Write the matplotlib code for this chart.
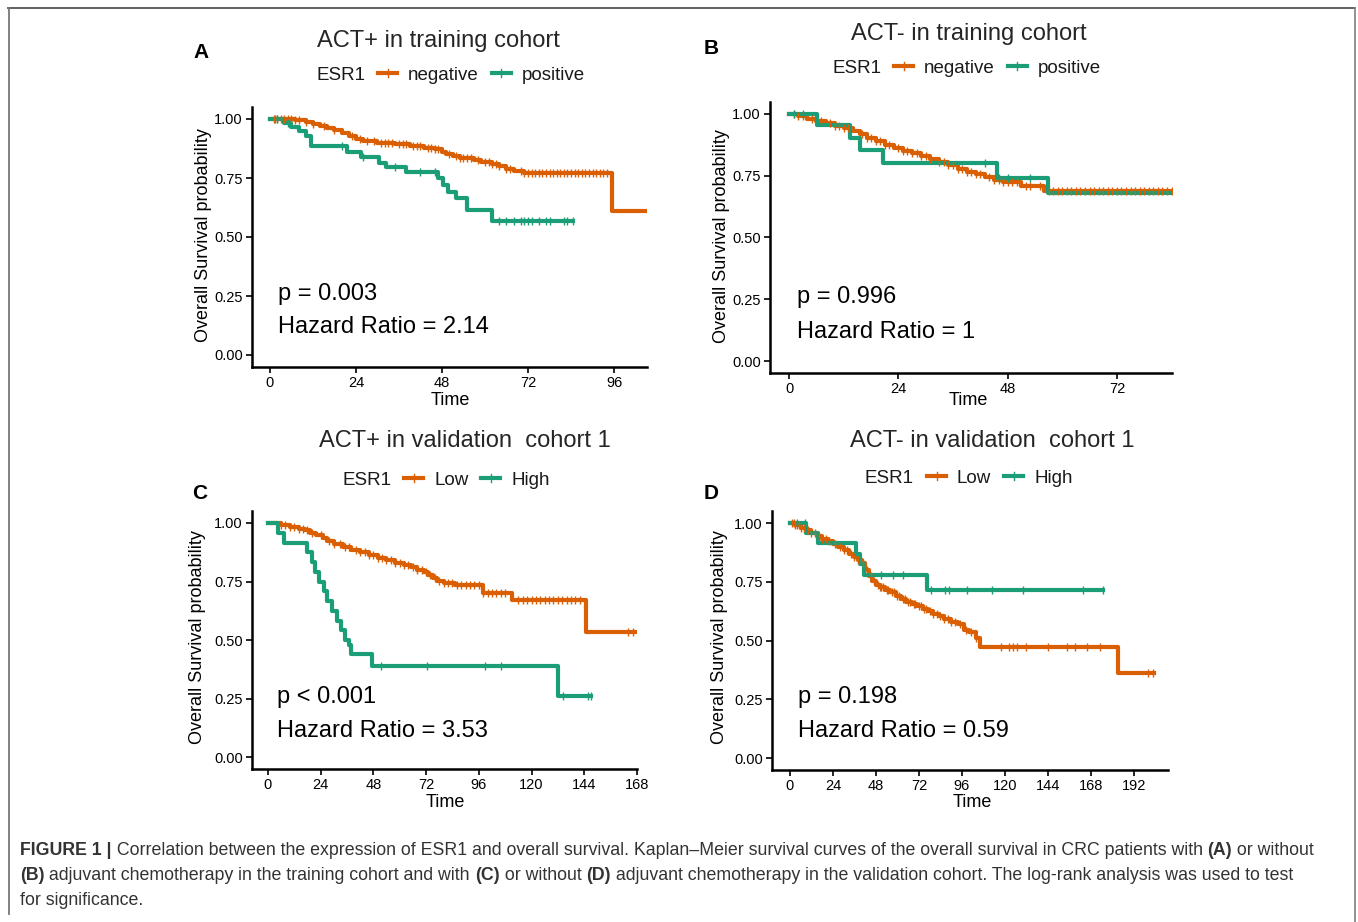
import numpy as np
import matplotlib.pyplot as plt
import matplotlib.transforms as mtransforms
from matplotlib.lines import Line2D

W, H = 1358, 922
ORANGE = "#D95F02"
GREEN = "#1B9E77"

# ---- panel A: ACT+ in training cohort ----
a_neg_t = [0, 7, 10, 12, 14, 16, 18, 20, 22, 24, 26, 30, 35, 39, 43, 46, 48, 49, 51, 53,
           57, 59, 62, 64, 66, 68, 71, 95.5]
a_neg_s = [1.0, 0.994, 0.987, 0.98, 0.972, 0.962, 0.952, 0.94, 0.928, 0.916, 0.908, 0.90,
           0.893, 0.886, 0.879, 0.872, 0.862, 0.853, 0.843, 0.834, 0.826, 0.817, 0.81, 0.80,
           0.79, 0.781, 0.772, 0.61]
a_neg_end = 105
a_neg_cens = [1, 1.5, 2, 3, 4, 5, 6, 7, 8, 10, 12, 15, 18, 23, 25, 27, 29, 31, 32, 33, 34, 36,
              37, 38, 40, 41, 42, 44, 45, 46, 47, 50, 52, 53, 54, 55, 56, 58, 60, 61, 62, 63,
              64, 66, 67, 70, 71, 72, 73, 74, 75, 76, 77, 78, 79, 80, 81, 82, 83, 84, 85, 86,
              87, 88, 89, 90, 91, 92, 93, 94]
a_pos_t = [0, 4, 6, 8, 10, 11.5, 21.5, 25.5, 30.5, 32.5, 38, 47, 48.3, 49.7, 52, 55, 62]
a_pos_s = [1.0, 0.983, 0.966, 0.95, 0.93, 0.887, 0.862, 0.839, 0.813, 0.797, 0.775, 0.75,
           0.72, 0.69, 0.665, 0.614, 0.567]
a_pos_end = 84.5
a_pos_cens = [2, 5, 20, 26, 35, 42, 46, 64, 66, 68, 70, 71, 72, 73, 75, 77, 78, 82, 83, 84.5]

# ---- panel B: ACT- in training cohort ----
b_neg_t = [0, 2, 4, 6, 8, 10, 12, 14, 15.5, 17, 19, 21, 23, 25, 27, 29, 31, 33, 35, 37, 39,
           41, 43, 45, 47, 51, 56]
b_neg_s = [1.0, 0.99, 0.98, 0.97, 0.962, 0.952, 0.944, 0.932, 0.918, 0.904, 0.89, 0.876,
           0.864, 0.852, 0.84, 0.828, 0.818, 0.806, 0.792, 0.778, 0.766, 0.755, 0.744, 0.733,
           0.724, 0.708, 0.69]
b_neg_end = 84
b_neg_cens = [1, 2, 3, 5, 7, 9, 10, 11, 12, 13, 16, 17, 18, 19, 20, 21, 22, 24, 25, 26, 27,
              28, 29, 30, 31, 33, 34, 35, 36, 37, 38, 39, 40, 41, 42, 44, 45, 46, 47, 48, 49,
              50, 52, 53, 55, 57, 58, 59, 60, 61, 62, 63, 64, 65, 66, 67, 68, 69, 70, 71, 72,
              73, 74, 75, 76, 77, 78, 79, 80, 81, 82, 83, 84]
b_pos_t = [0, 6.1, 13.4, 15.6, 20.7, 45.7, 56.9]
b_pos_s = [1.0, 0.955, 0.903, 0.854, 0.80, 0.742, 0.679]
b_pos_end = 84
b_pos_cens = [1, 3, 43, 46, 48, 53]

# ---- panel C: ACT+ in validation cohort 1 ----
c_low_t = [0, 6, 10, 14, 17, 19, 22, 25, 27, 30, 34, 38, 42, 46, 50, 54, 58, 62, 65, 68, 71,
           73, 75, 77, 80, 85, 98, 111, 145]
c_low_s = [1.0, 0.992, 0.984, 0.976, 0.968, 0.958, 0.948, 0.935, 0.922, 0.91, 0.898, 0.886,
           0.874, 0.862, 0.85, 0.84, 0.83, 0.82, 0.81, 0.80, 0.79, 0.778, 0.766, 0.754, 0.743,
           0.733, 0.70, 0.67, 0.535]
c_low_end = 167
c_low_cens = [6, 8, 10, 12, 14, 16, 18, 20, 24, 28, 30, 33, 35, 37, 40, 42, 44, 46, 48, 50,
              52, 54, 56, 58, 60, 62, 64, 66, 68, 70, 72, 74, 76, 78, 80, 82, 84, 86, 88, 90,
              92, 94, 96, 98, 100, 102, 104, 106, 108, 114, 116, 118, 120, 122, 124, 126, 128,
              130, 132, 134, 136, 138, 140, 142, 164, 166]
c_high_t = [0, 4.5, 7.5, 18, 20, 21.5, 23.5, 25.5, 27, 29, 31.5, 33.5, 35, 37, 38, 47.5, 132]
c_high_s = [1.0, 0.957, 0.916, 0.875, 0.833, 0.792, 0.75, 0.708, 0.667, 0.625, 0.583, 0.542,
            0.5, 0.479, 0.44, 0.39, 0.26]
c_high_end = 147
c_high_cens = [51.6, 72.4, 99, 106, 134.5, 145.8, 147]

# ---- panel D: ACT- in validation cohort 1 ----
d_low_t = [0, 3, 6, 9, 12, 15, 18, 21, 24, 27, 30, 33, 36, 38, 40, 42, 44, 46, 48, 50, 53,
           56, 59, 62, 65, 68, 71, 74, 77, 80, 83, 86, 90, 94, 97, 100, 104, 106, 183]
d_low_s = [1.0, 0.99, 0.98, 0.97, 0.958, 0.946, 0.934, 0.922, 0.91, 0.897, 0.884, 0.87,
           0.855, 0.843, 0.83, 0.80, 0.775, 0.755, 0.738, 0.728, 0.716, 0.705, 0.69, 0.677,
           0.664, 0.655, 0.645, 0.635, 0.625, 0.614, 0.603, 0.59, 0.578, 0.57, 0.545, 0.536,
           0.51, 0.474, 0.36]
d_low_end = 203
d_low_cens = [1, 2, 3, 4, 5, 6, 8, 10, 12, 14, 16, 18, 20, 22, 25, 28, 30, 32, 34, 36, 38,
              41, 43, 45, 47, 49, 50, 51, 52, 54, 55, 57, 58, 60, 61, 63, 64, 66, 67, 69, 70,
              72, 73, 75, 76, 78, 80, 82, 84, 86, 88, 90, 92, 95, 98, 101, 104, 118, 122,
              124.5, 127, 132, 144, 154.5, 159, 166, 173, 200, 202.6]
d_high_t = [0, 9, 15.5, 37, 39, 41.5, 76.5]
d_high_s = [1.0, 0.957, 0.913, 0.87, 0.826, 0.78, 0.716]
d_high_end = 175
d_high_cens = [3.9, 8.4, 51, 57.5, 63, 79, 86.5, 89, 98.8, 112.7, 130, 163.5, 174.7]

titles = ["ACT+ in training cohort", "ACT- in training cohort",
          "ACT+ in validation  cohort 1", "ACT- in validation  cohort 1"]
group_labels = [["negative", "positive"], ["negative", "positive"],
                ["Low", "High"], ["Low", "High"]]
p_texts = ["p = 0.003", "p = 0.996", "p < 0.001", "p = 0.198"]
hr_texts = ["Hazard Ratio = 2.14", "Hazard Ratio = 1",
            "Hazard Ratio = 3.53", "Hazard Ratio = 0.59"]
x_ticks = [[0, 24, 48, 72, 96], [0, 24, 48, 72],
           [0, 24, 48, 72, 96, 120, 144, 168], [0, 24, 48, 72, 96, 120, 144, 168, 192]]
y_ticks = [0, 0.25, 0.5, 0.75, 1.0]

curves = [
    [(a_neg_t, a_neg_s, a_neg_end, a_neg_cens), (a_pos_t, a_pos_s, a_pos_end, a_pos_cens)],
    [(b_neg_t, b_neg_s, b_neg_end, b_neg_cens), (b_pos_t, b_pos_s, b_pos_end, b_pos_cens)],
    [(c_low_t, c_low_s, c_low_end, c_low_cens), (c_high_t, c_high_s, c_high_end, c_high_cens)],
    [(d_low_t, d_low_s, d_low_end, d_low_cens), (d_high_t, d_high_s, d_high_end, d_high_cens)],
]

# layout (pixels, from the top-left corner)
layout = [
    dict(letter="A", rect=(252, 107.2, 647, 366.8), xlim=(-5.0, 105.2),
         title=(438, 47), legend=(316, 80), letter_at=(201, 53), stats=(278, 300, 333),
         xlabel=(450, 405), ylabel=(203, 235)),
    dict(letter="B", rect=(770, 101.6, 1172, 373.4), xlim=(-4.2, 84.1),
         title=(969, 40), legend=(832, 73), letter_at=(711, 49), stats=(797, 303, 338),
         xlabel=(968, 405), ylabel=(721, 236)),
    dict(letter="C", rect=(252, 511.3, 637, 768.7), xlim=(-7.2, 167.0),
         title=(465, 447), legend=(342, 485), letter_at=(200, 493), stats=(277, 703, 737),
         xlabel=(445, 807), ylabel=(198, 637)),
    dict(letter="D", rect=(772, 511.3, 1168, 769.8), xlim=(-10.0, 211.0),
         title=(992, 447), legend=(865, 483), letter_at=(711, 493), stats=(798, 703, 737),
         xlabel=(972, 807), ylabel=(720, 637)),
]

plt.rcParams["font.family"] = ["Liberation Sans", "DejaVu Sans"]

fig = plt.figure(figsize=(W / 100, H / 100), dpi=100)
fig.patch.set_facecolor("white")
px = mtransforms.Affine2D().scale(1 / W, -1 / H).translate(0, 1) + fig.transFigure
renderer = fig.canvas.get_renderer()


def draw_km(ax, t, s, end, cens, color):
    tt = np.append(t, end)
    ss = np.append(s, s[-1])
    ax.step(tt, ss, where="post", color=color, lw=3.0, zorder=3)
    idx = np.searchsorted(t, cens, side="right") - 1
    ax.plot(cens, np.asarray(s)[idx], ls="none", marker="|", ms=6, mew=1.0,
            color=color, zorder=4)


def draw_legend(x, y, labels):
    t = fig.text(x, y, "ESR1", transform=px, fontsize=13.5, va="baseline", color="#1a1a1a")
    x = t.get_window_extent(renderer).x1
    for lab, col in zip(labels, [ORANGE, GREEN]):
        x0 = x + 13
        fig.add_artist(Line2D([x0, x0 + 19], [y - 7, y - 7], transform=px, color=col, lw=3))
        fig.add_artist(Line2D([x0 + 9.5, x0 + 9.5], [y - 11, y - 3], transform=px,
                              color=col, lw=1.0))
        t = fig.text(x0 + 30, y, lab, transform=px, fontsize=13.5, va="baseline",
                     color="#1a1a1a")
        x = t.get_window_extent(renderer).x1


for i, lay in enumerate(layout):
    x0, y0, x1, y1 = lay["rect"]
    ax = fig.add_axes([x0 / W, 1 - y1 / H, (x1 - x0) / W, (y1 - y0) / H])
    for (t, s, end, cens), col in zip(curves[i], [ORANGE, GREEN]):
        draw_km(ax, t, s, end, cens, col)
    ax.set_xlim(*lay["xlim"])
    ax.set_ylim(-0.05, 1.05)
    ax.set_xticks(x_ticks[i])
    ax.set_yticks(y_ticks)
    ax.set_yticklabels([f"{v:.2f}" for v in y_ticks])
    for side in ("top", "right"):
        ax.spines[side].set_visible(False)
    for side in ("left", "bottom"):
        ax.spines[side].set_linewidth(1.8)
        ax.spines[side].set_color("black")
    ax.tick_params(length=4, width=1.2, pad=2.5, labelsize=10.5, colors="black")
    ax.set_facecolor("none")

    ax.set_xlabel("Time", fontsize=13, va="baseline", ha="center")
    ax.xaxis.set_label_coords(*lay["xlabel"], transform=px)
    ax.set_ylabel("Overall Survival probability", fontsize=13, va="center", ha="center")
    ax.yaxis.set_label_coords(*lay["ylabel"], transform=px)

    fig.text(*lay["title"], titles[i], transform=px, fontsize=17, ha="center",
             va="baseline", color="#262626")
    fig.text(*lay["letter_at"], lay["letter"], transform=px, fontsize=15,
             fontweight="bold", ha="center", va="center", color="black")
    sx, sy1, sy2 = lay["stats"]
    fig.text(sx, sy1, p_texts[i], transform=px, fontsize=17, va="baseline", color="black")
    fig.text(sx, sy2, hr_texts[i], transform=px, fontsize=17, va="baseline", color="black")
    draw_legend(*lay["legend"], group_labels[i])

# caption with bold run segments
caption_lines = [
    [("FIGURE 1 |", "bold"),
     (" Correlation between the expression of ESR1 and overall survival. Kaplan\u2013Meier "
      "survival curves of the overall survival in CRC patients with ", "normal"),
     ("(A)", "bold"), (" or without", "normal")],
    [("(B)", "bold"), (" adjuvant chemotherapy in the training cohort and with ", "normal"),
     ("(C)", "bold"), (" or without ", "normal"), ("(D)", "bold"),
     (" adjuvant chemotherapy in the validation cohort. The log-rank analysis was used to test",
      "normal")],
    [("for significance.", "normal")],
]
for line, base in zip(caption_lines, [855, 880, 905]):
    x = 20
    for txt, wt in line:
        t = fig.text(x, base, txt, transform=px, fontsize=12.8, fontweight=wt,
                     va="baseline", color="#333333")
        x = t.get_window_extent(renderer).x1

# thin frame round the figure panel
for xs, ys, c in [([8, 1355], [8.5, 8.5], "#555555"), ([8.5, 8.5], [8, 914], "#777777"),
                  ([1355, 1355], [8, 922], "#888888")]:
    fig.add_artist(Line2D(xs, ys, transform=px, color=c, lw=1.3))

fig.savefig("out.png", dpi=100, facecolor="white")
